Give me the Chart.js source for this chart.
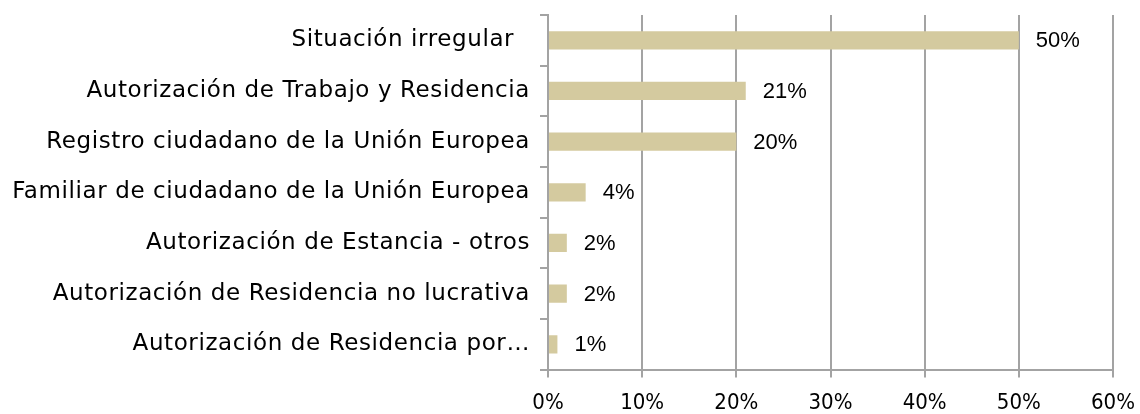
<!DOCTYPE html>
<html>
<head>
<meta charset="utf-8">
<script src="https://cdn.jsdelivr.net/npm/chart.js@4"></script>
<style>
  html, body { margin: 0; padding: 0; background: #fff; }
</style>
</head>
<body>
<canvas id="permisos" width="1140" height="414"></canvas>
<script>
// categorias y valores
let categorias = [
  'Situación irregular  ',
  'Autorización de Trabajo y Residencia',
  'Registro ciudadano de la Unión Europea',
  'Familiar de ciudadano de la Unión Europea',
  'Autorización de Estancia - otros',
  'Autorización de Residencia no lucrativa',
  'Autorización de Residencia por…'
];
let porcentajes = [50, 21, 20, 4, 2, 2, 1];
let ticksX = [0, 10, 20, 30, 40, 50, 60];

let fuenteCategorias = '"DejaVu Sans", sans-serif';
let fuenteEje = '"DejaVu Sans Condensed", "DejaVu Sans", sans-serif';

let ctx = document.getElementById('permisos').getContext('2d');
let permisos = new Chart(ctx, {
  type: 'bar',
  data: {
    labels: categorias,
    datasets: [{
      data: porcentajes,
      backgroundColor: '#d4ca9f',
      borderWidth: 0,
      barPercentage: 0.36,
      categoryPercentage: 1
    }]
  },
  options: {
    indexAxis: 'y',
    responsive: false,
    animation: false,
    layout: {
      padding: { top: 15, right: 27, bottom: -14, left: 0 }
    },
    plugins: {
      legend: { display: false },
      tooltip: { enabled: false }
    },
    scales: {
      x: {
        min: 0,
        max: 60,
        afterBuildTicks: function (scale) {
          scale.ticks = ticksX.map(v => ({ value: v }));
        },
        afterFit: function (scale) {
          scale.paddingLeft = 0;
          scale.paddingRight = 0;
        },
        grid: {
          color: '#a3a3a3',
          lineWidth: 2,
          tickLength: 8
        },
        border: { color: '#a3a3a3', width: 2 },
        ticks: {
          color: '#000',
          padding: 12,
          font: { family: fuenteEje, size: 22 },
          callback: v => v + '%'
        }
      },
      y: {
        // ancho fijo de la columna de categorias
        afterFit: function (scale) {
          scale.width = 548;
          scale.paddingTop = 0;
          scale.paddingBottom = 0;
        },
        grid: {
          drawOnChartArea: false,
          color: '#a3a3a3',
          lineWidth: 2,
          tickLength: 8,
          offset: true
        },
        border: { color: '#a3a3a3', width: 2 },
        ticks: {
          color: '#000',
          padding: 10,
          font: { family: fuenteCategorias, size: 23 }
        }
      }
    }
  },
  plugins: [{
    id: 'espaciado',
    afterLayout: function (chart) {
      let y = chart.scales.y;
      if (y._espaciado) return;
      let original = y.drawLabels.bind(y);
      y.drawLabels = function (area) {
        chart.ctx.save();
        chart.ctx.letterSpacing = '0.6px';
        original(area);
        chart.ctx.restore();
      };
      y._espaciado = true;
    }
  }, {
    id: 'valores',
    afterDatasetsDraw: function (chart) {
      let c = chart.ctx;
      let meta = chart.getDatasetMeta(0);
      c.save();
      c.font = '22px "Liberation Sans", Arial, sans-serif';
      c.fillStyle = '#000';
      c.textBaseline = 'middle';
      c.textAlign = 'left';
      meta.data.forEach(function (bar, i) {
        let x = chart.scales.x.getPixelForValue(porcentajes[i]);
        c.fillText(porcentajes[i] + '%', x + 17, bar.y + 1);
      });
      c.restore();
    }
  }]
});
</script>
</body>
</html>
